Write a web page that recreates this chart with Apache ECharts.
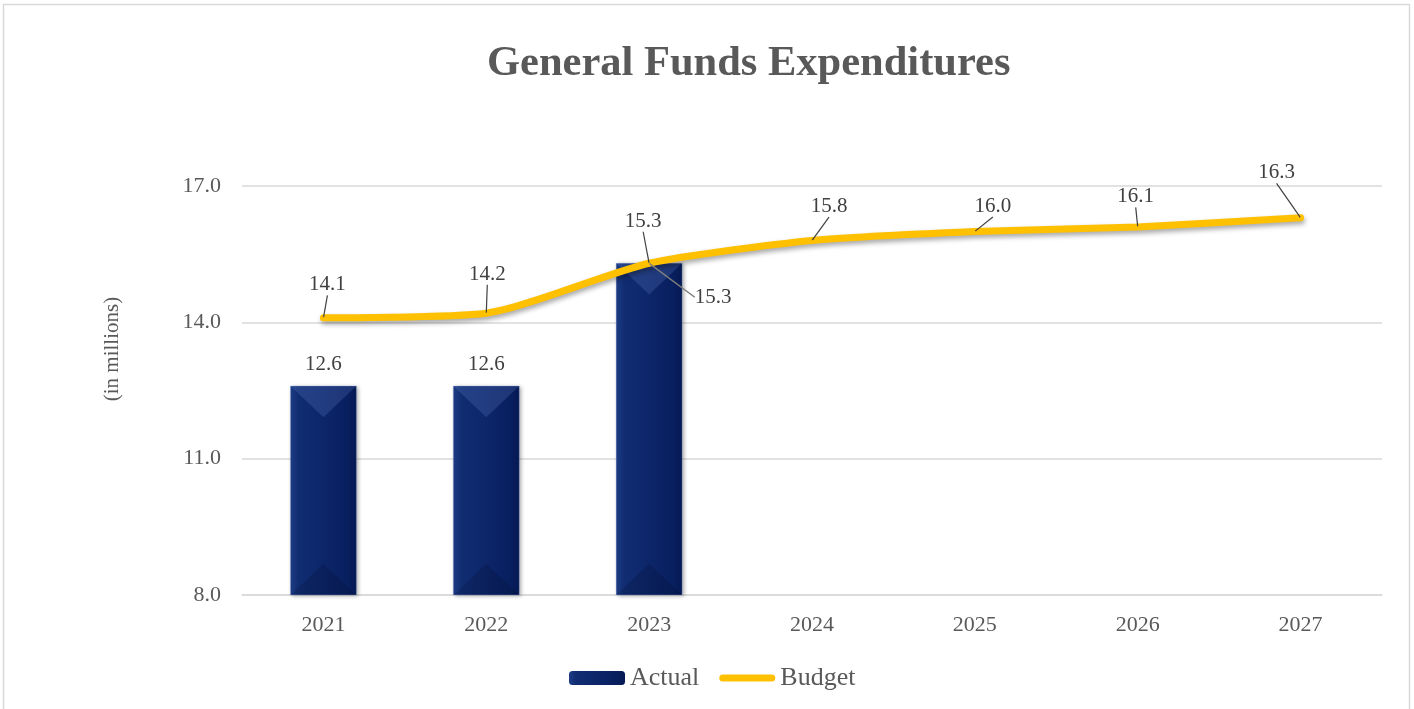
<!DOCTYPE html>
<html>
<head>
<meta charset="utf-8">
<script src="https://cdn.jsdelivr.net/npm/echarts@6/dist/echarts.min.js"></script>
<style>
html,body{margin:0;padding:0;background:#fff;}
#chart{width:1414px;height:709px;}
</style>
</head>
<body>
<div id="chart"></div>
<script>
const years = ['2021','2022','2023','2024','2025','2026','2027'];
const actual = [12.6, 12.6, 15.3, null, null, null, null];
const budget = [14.1, 14.2, 15.3, 15.8, 16.0, 16.1, 16.3];
const yTicks = [8, 11, 14, 17];

const FONT = '"Liberation Serif", "Times New Roman", serif';
const GREY = '#595959';
const LBL = '#404040';
const BAR_W = 0.405;

// label offsets (styling only)
const lineLabelOffsets = [[4,-22],[1,-28],[-6,-31],[17,-23],[18,-14],[-2,-19],[-24,-34]];
const calloutIndex = 2;           // actual label drawn as callout
const calloutOffset = [64, 45];

const chart = echarts.init(document.getElementById('chart'));

const barGradient = new echarts.graphic.LinearGradient(0,0,1,0,[
  {offset:0, color:'#1d3c84'},
  {offset:0.12, color:'#112d72'},
  {offset:0.5, color:'#0c2669'},
  {offset:0.88, color:'#081f5e'},
  {offset:1, color:'#051852'}
]);

chart.setOption({
  animation:false,
  backgroundColor:'#fff',
  graphic:[
    {type:'rect', z:-10, silent:true,
     shape:{x:3.5, y:4.5, width:1406, height:740},
     style:{fill:null, stroke:'#d9d9d9', lineWidth:1.5}},
    {type:'text', silent:true, x:112, y:349, rotation:Math.PI/2,
     style:{text:'(in millions)', fontFamily:FONT, fontSize:21, fill:GREY, align:'center', verticalAlign:'middle'}}
  ],
  title:{
    text:'General Funds Expenditures',
    left:482, top:38,
    textStyle:{fontFamily:FONT, fontSize:42.5, fontWeight:'bold', color:GREY}
  },
  legend:{
    bottom:13, left:564,
    itemWidth:56, itemHeight:14, itemGap:20,
    textStyle:{fontFamily:FONT, fontSize:26, color:GREY},
    data:[
      {name:'Actual'},
      {name:'Budget', icon:'path://M3.5,0H52.5A3.5,3.5 0 0 1 52.5,7H3.5A3.5,3.5 0 0 1 3.5,0Z'}
    ]
  },
  grid:{left:242, right:32, top:186, bottom:114, containLabel:false},
  xAxis:{
    type:'category', data:years,
    axisLine:{lineStyle:{color:'#d9d9d9', width:1.5}},
    axisTick:{show:false},
    axisLabel:{fontFamily:FONT, fontSize:22, color:GREY, margin:19}
  },
  yAxis:{
    type:'value', min:yTicks[0], max:yTicks[yTicks.length-1], interval:3,
    axisLine:{show:false}, axisTick:{show:false},
    splitLine:{lineStyle:{color:'#d9d9d9', width:1.5}},
    axisLabel:{fontFamily:FONT, fontSize:22, color:GREY, margin:21,
      formatter:v=>v.toFixed(1)}
  },
  series:[
    {
      name:'Actual', type:'bar', data:actual,
      barWidth:(BAR_W*100)+'%',
      itemStyle:{color:barGradient, shadowColor:'rgba(0,0,0,0.35)', shadowBlur:4, shadowOffsetX:2, shadowOffsetY:1},
      label:{show:true, position:'top', distance:11, fontFamily:FONT, fontSize:21, color:LBL,
        formatter:p=>(p.dataIndex===calloutIndex ? '' : p.value.toFixed(1))}
    },
    {
      name:'bevel', type:'custom', silent:true, z:3,
      data:actual.map((v,i)=>[i,v]),
      renderItem:(params, api)=>{
        const v = api.value(1);
        if (v == null || isNaN(v)) return;
        const top = api.coord([api.value(0), v]);
        const bot = api.coord([api.value(0), yTicks[0]]);
        const w = api.size([1,0])[0]*BAR_W;
        const x0 = top[0]-w/2, x1 = top[0]+w/2;
        const d = w/2*0.95;
        return {type:'group', children:[
          {type:'polygon', shape:{points:[[x0,top[1]],[x1,top[1]],[top[0],top[1]+d]]},
            style:{fill:'rgba(120,150,220,0.2)'}},
          {type:'polygon', shape:{points:[[x0,bot[1]],[x1,bot[1]],[top[0],bot[1]-d]]},
            style:{fill:'rgba(0,0,20,0.15)'}},
          {type:'rect', shape:{x:x0, y:top[1], width:w, height:bot[1]-top[1]},
            style:{fill:null, stroke:'rgba(160,180,230,0.3)', lineWidth:1}}
        ]};
      }
    },
    {
      name:'Budget', type:'line', data:budget, z:5,
      smooth:0.22,
      symbol:'circle', symbolSize:1, showSymbol:true,
      lineStyle:{color:'#ffc000', width:7, cap:'round', shadowColor:'rgba(0,0,0,0.35)', shadowBlur:5, shadowOffsetY:3, shadowOffsetX:1},
      itemStyle:{color:'#ffc000'},
      label:{show:true, position:'top', distance:0, fontFamily:FONT, fontSize:21, color:LBL,
        formatter:p=>p.value.toFixed(1)},
      labelLine:{show:true, lineStyle:{color:LBL, width:1.2}},
      labelLayout:p=>{const o=lineLabelOffsets[p.dataIndex]; return {dx:o[0], dy:o[1]};}
    },
    {
      name:'actualCallout', type:'scatter', z:6, silent:true,
      data:actual.map((v,i)=>(i===calloutIndex ? [i,v] : [i,null])),
      symbol:'circle', symbolSize:1, itemStyle:{color:'rgba(0,0,0,0)', opacity:1},
      label:{show:true, position:'top', distance:0, fontFamily:FONT, fontSize:21, color:LBL,
        formatter:p=>(p.value[1]==null ? '' : p.value[1].toFixed(1))},
      labelLine:{show:true, lineStyle:{color:'#7f7f7f', width:1.5}},
      labelLayout:p=>({dx:calloutOffset[0], dy:calloutOffset[1]})
    }
  ]
});
</script>
</body>
</html>
